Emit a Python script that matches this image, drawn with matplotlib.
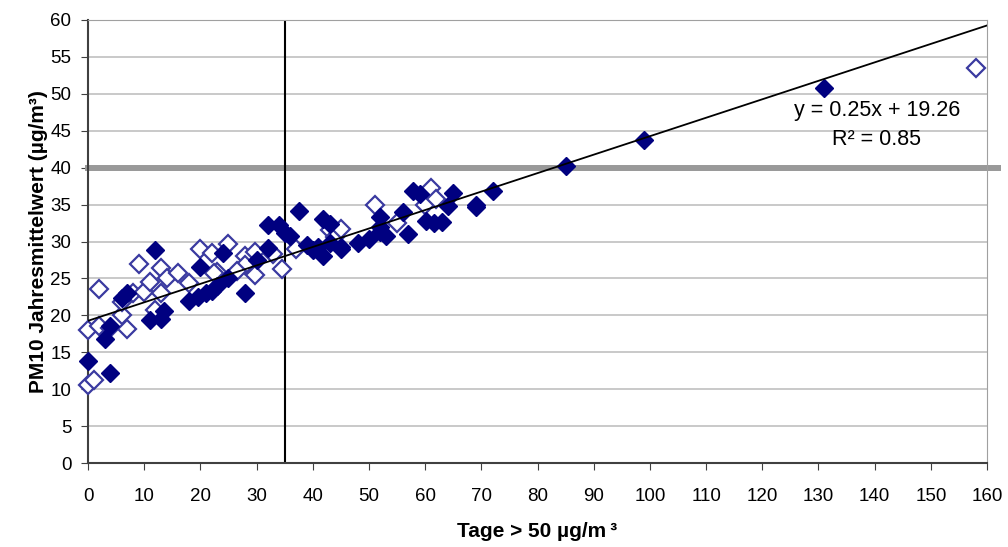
import matplotlib
matplotlib.use("Agg")
import matplotlib.pyplot as plt

plt.rcParams['font.family'] = ['Liberation Sans', 'DejaVu Sans']

# filled diamonds
tage_voll = [0, 4, 3, 4, 7, 6, 11, 13, 13.5, 12, 18, 19.5, 20, 21, 22, 23, 24, 25,
             28, 30, 32, 32, 34, 35, 36, 37.5, 39, 40, 41, 41.8, 41.8, 43, 43, 45, 45,
             48, 50, 52, 52, 52, 53, 56, 57, 57.8, 59, 60.2, 61.5, 63, 64, 65, 69, 69,
             72, 85, 99, 131]
pm10_voll = [13.8, 12.2, 16.8, 18.5, 23.0, 22.3, 19.4, 19.5, 20.6, 28.9, 22.0,
             22.5, 26.5, 23.0, 23.3, 24.0, 28.5, 25.0, 23.0, 27.5, 29.1, 32.2, 32.2,
             31.2, 30.8, 34.1, 29.5, 28.9, 29.3, 28.0, 33.0, 32.4, 29.8, 29.0, 29.3,
             29.8, 30.4, 33.3, 32.0, 31.3, 30.7, 34.0, 31.0, 36.8, 36.5, 32.8, 32.5,
             32.7, 34.8, 36.6, 34.7, 35.0, 36.8, 40.2, 43.8, 50.8]

# open diamonds
tage_offen = [0, 1, 0, 2, 4, 2, 6, 6, 7, 8, 9, 10, 11, 12, 13, 13, 14, 16, 18, 20,
              22, 23, 22.5, 25, 28, 28, 29.7, 29.7, 33, 34.5, 37, 43, 44, 45, 51, 55,
              60, 61, 62, 26.5, 158]
pm10_offen = [10.5, 11.3, 18.0, 18.5, 18.3, 23.5, 20.0, 21.8, 18.2, 23.0, 27.0, 23.2,
              24.5, 20.7, 26.4, 23.0, 25.0, 25.8, 24.4, 29.0, 28.5, 25.9, 25.7, 29.7,
              28.0, 26.8, 28.6, 25.5, 28.3, 26.3, 29.0, 31.6, 30.6, 31.7, 35.0, 32.5,
              35.0, 37.3, 35.8, 26.0, 53.5]

steigung = 0.25
achsenabschnitt = 19.26
grenzwert = 40
tage_grenze = 35

fig = plt.figure(figsize=(10.08, 5.47), dpi=100)
ax = fig.add_axes([88 / 1008, 1 - 463 / 547, (987 - 88) / 1008, (463 - 20) / 547])

ax.set_xlim(0, 160)
ax.set_ylim(0, 60)
ax.set_xticks(range(0, 161, 10))
ax.set_yticks(range(0, 61, 5))
ax.yaxis.grid(True, color='#c0c0c0', lw=1.2)
ax.set_axisbelow(True)

# Grenzwert-Linie ragt etwas ueber die Achsen hinaus
ax.plot([-0.6, 162.5], [grenzwert, grenzwert], color='#999999', lw=4.3, zorder=2,
        clip_on=False, solid_capstyle='butt')
ax.plot([tage_grenze, tage_grenze], [0, 60], color='black', lw=1.5, zorder=2)

ax.plot(tage_offen, pm10_offen, 'D', ms=9, mfc='white', mec='#3a3aa0', mew=1.6,
        ls='none', zorder=3, clip_on=False)
ax.plot(tage_voll, pm10_voll, 'D', ms=9, mfc='#000080', mec='#000080', ls='none',
        zorder=4, clip_on=False)

ax.plot([0, 160], [achsenabschnitt, achsenabschnitt + steigung * 160], color='black',
        lw=1.3, zorder=5)

ax.text(140.4, 47.8, "y = 0.25x + 19.26", ha='center', va='center', fontsize=15.5)
ax.text(140.4, 43.8, "R² = 0.85", ha='center', va='center', fontsize=15.5)

for s in ['top', 'right']:
    ax.spines[s].set_color('#a0a0a0')
for s in ['left', 'bottom']:
    ax.spines[s].set_color('#404040')
    ax.spines[s].set_linewidth(1.5)

ax.tick_params(direction='out', length=5, labelsize=13.5, color='#404040')
ax.tick_params(axis='x', pad=13)
ax.tick_params(axis='y', pad=7)

ax.set_xlabel("Tage > 50 µg/m\u2009³", fontsize=15, fontweight='bold', labelpad=12)
ax.set_ylabel("PM10 Jahresmittelwert (µg/m³)", fontsize=15, fontweight='bold',
              labelpad=1.5)

fig.savefig("out.png", dpi=100)
